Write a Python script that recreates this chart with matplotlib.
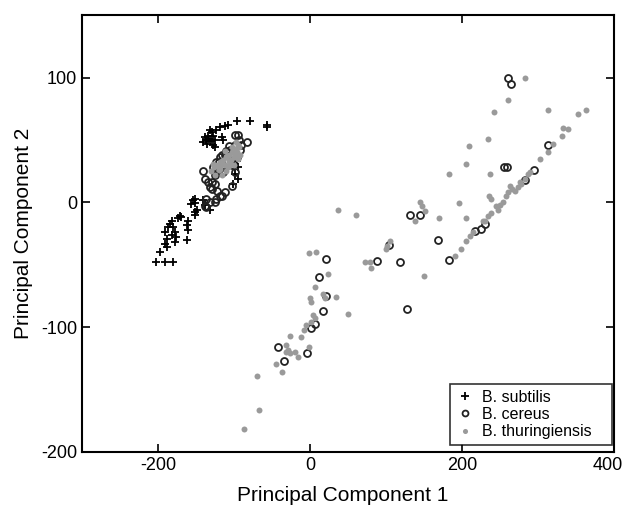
import matplotlib
matplotlib.use("Agg")
import matplotlib.pyplot as plt
from matplotlib.transforms import ScaledTranslation

plt.rcParams['font.family'] = ['Liberation Sans', 'DejaVu Sans']
plt.rcParams['axes.unicode_minus'] = False

# B. subtilis
subtilis_x = [-96, -79, -57, -57, -138, -134, -129, -123, -118, -112, -108, -132, -141, -137,
              -133, -130, -127, -125, -135, -128, -116, -125, -114, -99, -94, -101, -96, -95,
              -154, -156, -149, -141, -138, -151, -151, -151, -151, -132,
              -171, -173, -169, -160, -182, -184, -186, -191, -180, -178, -182, -175.5, -178,
              -188.5, -191, -188.5, -162, -160, -162, -197, -202, -191, -180]
subtilis_y = [65, 65, 62, 60, 52, 53, 56, 58, 60, 61, 62, 58, 48, 50,
              51, 49, 53, 50, 47, 46, 52, 44, 50, 22.5, 18.5, 14.6, 33, 28,
              1.6, -1.3, -6, 1.6, -2, 2.6, -0.5, -8, -10.5, -6,
              -10.6, -12.7, -12, -14.6, -14.6, -17.2, -19.9, -23.9, -19.9, -23.9, -26.5, -27.8, -31.8,
              -29.2, -33.2, -35.8, -18.5, -22.5, -30.5, -39.8, -47.7, -47.7, -47.7]

# B. cereus
cereus_x = [-141, -138, -129, -132, -122, -125, -136, -118, -112, -116, -123, -103, -95, -83,
            -90, -99, -116, -114, -125, -99, -121, -136, -132, -138, -129, -125, -134,
            -128, -120, -112, -105, -98, -92, -108, -100, -115, -124, -118, -106, -96, -102, -93, -110,
            261, 265, 313, 256, 259, 295, 132, 145, 169, 218, 225, 230, 283, 104, 21, 89, 119,
            183, 12, 21, 17, 6.6, 2, -42.5, -34, -3.5, 128]
cereus_y = [25, 19, 16, 12, 9.5, 0, -4, 5, 8, 5.3, 2.6, 13.5, 54, 48,
            46, 54, 38, 24, 22, 24, 25.5, 2.6, 0, -2.6, 10.6, 14.6, 16,
            28, 32, 38, 42, 46, 42, 33, 38, 28, 32, 36, 45, 36, 30, 50, 41,
            100, 95, 46, 28, 28, 26, -10, -10, -30, -23, -21, -17, 17.6, -34, -45.6, -47, -47.7,
            -46.4, -60, -74.8, -87, -97.6, -100.8, -116, -127, -121, -85.7]

# B. thuringiensis
thur_x = [-130, -126, -122, -118, -114, -110, -106, -102, -98, -94, -120, -112, -104, -108,
          -100, -96, -115, -125, -118, -110, -105, -100, -95, -92, -97,
          -128, -116, -103, -99, -112, -121, -107, -93, -109, -117,
          283, 261, 242.5, 313.6, 353, 364, 333, 340, 332.5, 320, 313.6, 303.5, 234.6, 210,
          205, 183, 237, 236, 239, 196, 145, 147, 151, 138, 170, 206, 37, 60.5, -1, 8,
          263, 261, 270, 274, 278.5, 283, 287, 289.5, 254, 250, 245.6, 239, 235, 230, 228,
          215, 210.5, 205, 199.6, 191, 266, 276, 258, 248,
          105, 102, 100, 72, 79, 80, 24, 150, 6.6, 0, 2, 34, 17.5, 20, 50.4, 4.4, 6.6, 2.2,
          -4.4, -8, -26, -12, -1, -31, -28.5, -31.5, -26, -20, -15.4, -44, -37, -69, -67, -87]
thur_y = [25, 28, 30, 32, 34, 36, 38, 40, 43, 46, 26, 30, 34, 28,
          36, 40, 22, 22, 27, 25, 30, 30, 35, 38, 48,
          31, 33, 44, 38, 41, 29, 33, 44, 37, 30,
          99.5, 82, 72, 74, 71, 74, 59.7, 59, 53.5, 46.4, 40, 34.5, 51, 45,
          31, 22.5, 22.5, 5.3, 3, -0.8, 0, -2.6, -6.6, -14.6, -12.7, -12.7, -5.8, -9.8, -40.5, -40,
          13, 8, 9.3, 12, 14.6, 18.5, 22.5, 24, 0, -2, -3.2, -8.5, -11, -14.6, -14.6,
          -24, -27, -31, -37.6, -43, 11, 16, 5, -6,
          -31, -35, -37, -48, -48, -52.5, -57, -59, -67.6, -77, -79.5, -75.6, -73.7, -77, -89.6, -90, -92.8, -95.5,
          -98, -102, -107, -108, -116, -114, -118, -119.5, -120.7, -120, -124, -129.4, -136, -139, -166, -181.7]

fig = plt.figure(figsize=(6.25, 5.05), dpi=100)
ax = fig.add_axes([0.131, 0.105, 0.851, 0.865])

ax.plot(subtilis_x, subtilis_y, '+', color='black', markersize=6, markeredgewidth=1.3,
        linestyle='none', label='B. subtilis')
ax.plot(cereus_x, cereus_y, 'o', markerfacecolor='none', markeredgecolor='#222222',
        markersize=5, markeredgewidth=1.3, linestyle='none', label='B. cereus')
ax.plot(thur_x, thur_y, 'o', color='#9a9a9a', markersize=4.3, markeredgewidth=0,
        linestyle='none', label='B. thuringiensis')

ax.set_xlim(-300, 400)
ax.set_ylim(-200, 150)
ax.set_xticks([-200, 0, 200, 400])
ax.set_yticks([-200, -100, 0, 100])
ax.tick_params(direction='in', top=True, right=True, length=6, width=1.2, labelsize=13)
for s in ax.spines.values():
    s.set_linewidth(1.5)

# keep the last x tick label inside the figure
last = ax.get_xticklabels()[-1]
last.set_transform(last.get_transform() + ScaledTranslation(-0.06, 0, fig.dpi_scale_trans))

ax.set_xlabel('Principal Component 1', fontsize=15)
ax.xaxis.set_label_coords(0.49, -0.078)
ax.set_ylabel('Principal Component 2', fontsize=15, labelpad=6)

leg = ax.legend(loc='lower left', bbox_to_anchor=(0.692, 0.016, 0.304, 0.0), mode='expand',
                fontsize=11.5, frameon=True, fancybox=False, edgecolor='black',
                labelspacing=0.15, borderpad=0.35, handlelength=1.2, handletextpad=0.45,
                borderaxespad=0.0, markerscale=0.85)
leg.get_frame().set_linewidth(1.2)

fig.savefig('out.png', dpi=100)
